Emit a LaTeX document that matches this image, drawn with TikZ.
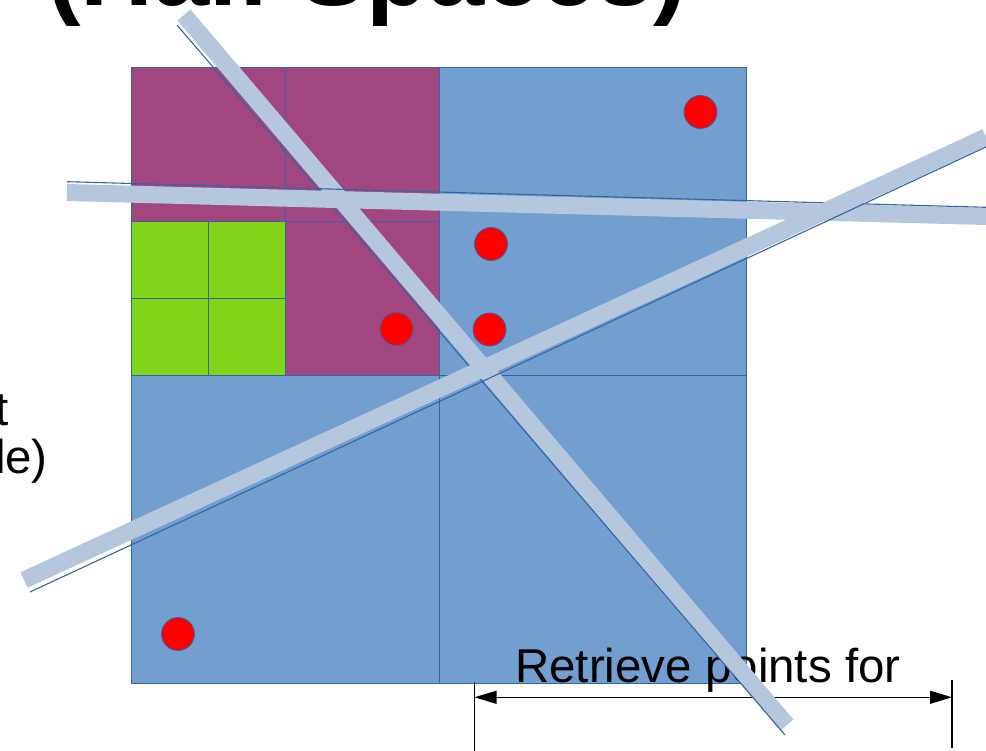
\documentclass[tikz,border=0pt]{standalone}
\usepackage{fontspec}
\setmainfont{Liberation Sans}
\usetikzlibrary{arrows.meta}
\definecolor{sqblue}{HTML}{729FCF}
\definecolor{edgeblue}{HTML}{3465A4}
\definecolor{cellpurple}{HTML}{A1467E}
\definecolor{cellgreen}{HTML}{81D41A}
\definecolor{bandblue}{HTML}{B4C7DC}
\begin{document}
\begin{tikzpicture}[x=1pt,y=-1pt,
  gridline/.style={draw=edgeblue, line width=1pt},
  band/.style={draw=bandblue, line width=17pt},
  edgeline/.style={draw=edgeblue, line width=1.1pt},
  dot/.style={circle, fill=red, draw=edgeblue, line width=0.8pt, minimum size=33pt, inner sep=0pt},
  lbl/.style={inner sep=0pt, font=\fontsize{47.5}{56}\selectfont},
  dimline/.style={draw=black, line width=1.1pt},
  dimarrow/.style={dimline, >={Triangle[length=22pt,width=13pt]}, <->}
  ]
\useasboundingbox (0,0) rectangle (986,751);
\clip (0,0) rectangle (986,751);

% title (cut off at top)
\node[anchor=base west, inner sep=0pt, font=\bfseries\fontsize{101}{110}\selectfont] (title) at (47,5.5) {(Half Spaces)};

% left partial text
\node[lbl, anchor=base east] (lt1) at (8.5,425) {t};
\node[lbl, anchor=base east] (lt2) at (48,473) {le)};

% quadtree cells
\fill[sqblue] (131.5,68) rectangle (746,683);
\fill[cellpurple] (131.5,68) rectangle (439,375.5);
\fill[cellgreen] (131.5,221.75) rectangle (285.25,375.5);
\draw[gridline] (131.5,68) rectangle (746,683);
\draw[gridline] (439,68) -- (439,683);
\draw[gridline] (131.5,375.5) -- (746,375.5);
\draw[gridline] (285.25,68) -- (285.25,375.5);
\draw[gridline] (131.5,221.75) -- (439,221.75);
\draw[gridline] (208.4,221.75) -- (208.4,375.5);
\draw[gridline] (131.5,298.6) -- (285.25,298.6);

% points
\node[dot] (p1) at (700.5,112) {};
\node[dot] (p2) at (491,244) {};
\node[dot] (p3) at (396.5,329) {};
\node[dot] (p4) at (489.5,329.5) {};
\node[dot] (p5) at (178,634) {};

% bottom label and dimension line
\node[lbl, anchor=base west] (ret) at (515,682) {Retrieve points for};
\coordinate (tl1) at (474.5,682);
\coordinate (tl2) at (474.5,751);
\coordinate (tr1) at (952,680);
\coordinate (tr2) at (952,748);
\coordinate (dl) at (474.5,697.3);
\coordinate (dr) at (952,697.3);
\draw[dimline] (tl1) -- (tl2);
\draw[dimline] (tr1) -- (tr2);
\draw[dimarrow] (dl) -- (dr);

% half-space lines
\coordinate (a1) at (184,15);
\coordinate (a2) at (787,725);
\coordinate (b1) at (177,25);
\coordinate (b2) at (785,735);
\coordinate (c1) at (67,192.5);
\coordinate (c2) at (986,216.5);
\coordinate (e1) at (67,181.7);
\coordinate (e2) at (986,207.3);
\coordinate (f1) at (24,580);
\coordinate (f2) at (986,137);
\coordinate (g1) at (30,592);
\coordinate (g2) at (986,147);

\draw[band] (a1) -- (a2);
\draw[edgeline] (b1) -- (b2);
\draw[band] (c1) -- (c2);
\draw[edgeline] (e1) -- (e2);
\draw[band] (f1) -- (f2);
\draw[edgeline] (g1) -- (g2);
\end{tikzpicture}
\end{document}
